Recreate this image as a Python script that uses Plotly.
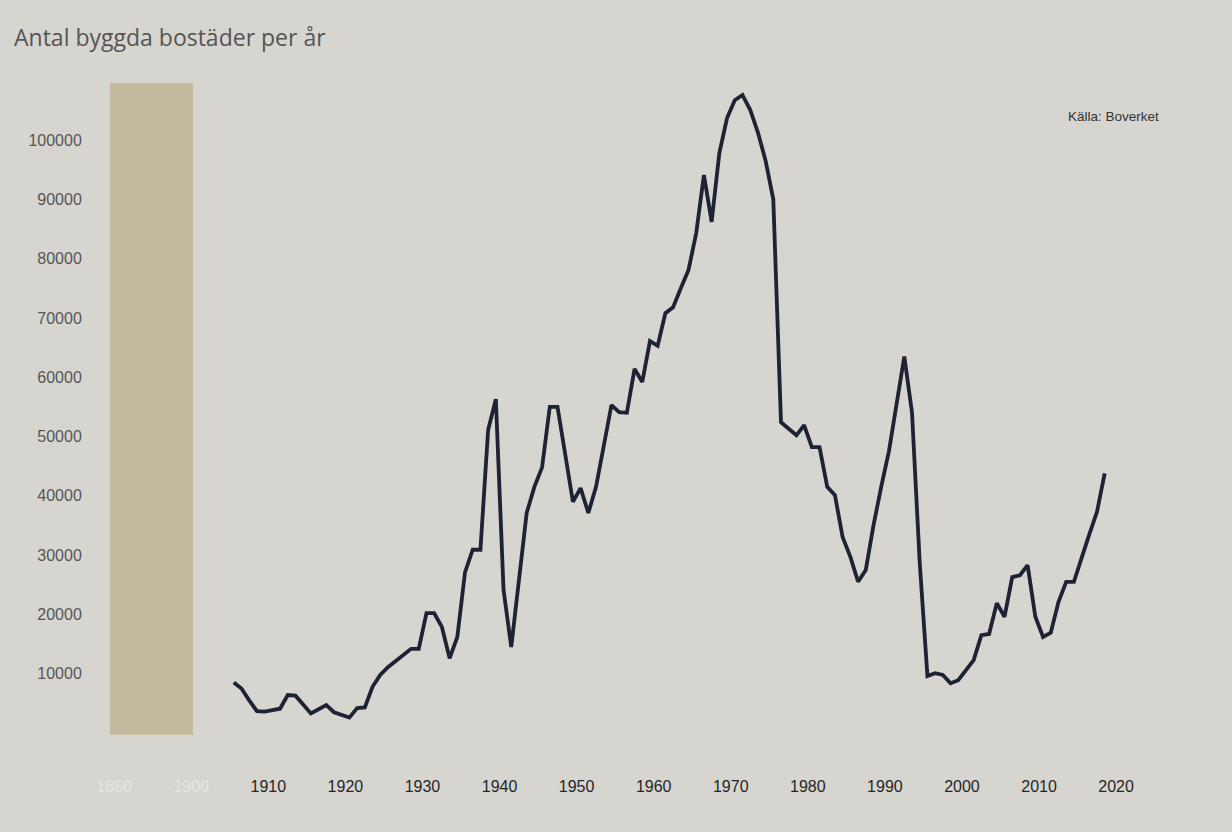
import plotly.graph_objects as go

years = list(range(1905, 2019))
homes = [
    8500, 7500, 5500, 3700, 3600, 3900, 4100, 6400, 6300, 4800,   # 1905-1914
    3300, 4000, 4700, 3500, 3000, 2600, 4200, 4300, 7800, 9800,   # 1915-1924
    11100, 12200, 13200, 14200, 14200, 20200, 20200, 17900, 12600, 16200,  # 1925-1934
    27100, 30900, 30900, 51100, 56300, 24100, 14500, 25800, 37100, 41500,  # 1935-1944
    44800, 55000, 55000, 47000, 39000, 41300, 37100, 41500, 48000, 55300,  # 1945-1954
    54100, 54000, 61400, 59200, 66100, 65300, 70800, 71800, 75000, 78100,  # 1955-1964
    84300, 94100, 86200, 97800, 103700, 106700, 107600, 105100, 101300, 96500,  # 1965-1974
    90000, 52400, 51300, 50200, 51900, 48200, 48200, 41500, 40100, 33000,  # 1975-1984
    29700, 25500, 27500, 35000, 41500, 47500, 55500, 63500, 54000, 28700,  # 1985-1994
    9600, 10100, 9800, 8400, 8900, 10500, 12300, 16500, 16700, 21900,     # 1995-2004
    19600, 26300, 26600, 28300, 19600, 16200, 16900, 22100, 25500, 25500,  # 2005-2014
    29700, 33500, 37300, 43800,                                        # 2015-2018
]

y_ticks = [10000, 20000, 30000, 40000, 50000, 60000, 70000, 80000, 90000, 100000]
x_ticks = [1910, 1920, 1930, 1940, 1950, 1960, 1970, 1980, 1990, 2000, 2010, 2020]
faded_ticks = [1890, 1900]
faded_text = ["1850", "1900"]

title = "Antal byggda bostäder per år"
source = "Källa: Boverket"

bg = "#d7d5d0"
line_color = "#1d2335"
band_color = "#c3b99e"

fig = go.Figure()
fig.add_trace(go.Scatter(
    x=years, y=homes, mode="lines",
    line=dict(color=line_color, width=3.8, shape="linear"),
    hoverinfo="x+y", showlegend=False,
))

# tan band on the left (historical break)
fig.add_shape(type="rect", xref="x", yref="y",
              x0=1888.94, x1=1899.71, y0=-300, y1=109600,
              fillcolor=band_color, line=dict(width=0), layer="below")

tickvals = faded_ticks + x_ticks
ticktext = [f"<span style='color:#e6e5e1'>{t}</span>" for t in faded_text] + [str(t) for t in x_ticks]

fig.update_layout(
    width=1232, height=832,
    paper_bgcolor=bg, plot_bgcolor=bg,
    margin=dict(l=100, r=52, t=60, b=92),
    title=dict(text=title, xref="container", yref="container",
               x=14/1232, xanchor="left", y=1-38/832, yanchor="middle",
               font=dict(family="Open Sans, Noto Sans, sans-serif", size=23, color="#555555")),
    xaxis=dict(range=[1887.64, 2027.77], tickvals=tickvals, ticktext=ticktext,
               showgrid=False, zeroline=False, showline=False,
               ticks="outside", ticklen=32, tickcolor="rgba(0,0,0,0)",
               ticklabelshift=-4,
               tickfont=dict(family="Liberation Sans, Arial, sans-serif",
                             size=16, color="#262626")),
    yaxis=dict(range=[-1180, 113490], tickvals=y_ticks, ticktext=[str(v) for v in y_ticks],
               showgrid=False, zeroline=False, showline=False,
               ticks="outside", ticklen=14, tickcolor="rgba(0,0,0,0)",
               tickfont=dict(family="Liberation Sans, Arial, sans-serif",
                             size=16, color="#555555")),
    annotations=[dict(text=source, xref="paper", yref="paper",
                      x=(1066-100)/1080, y=(740-116)/680, xanchor="left", yanchor="middle",
                      showarrow=False,
                      font=dict(family="Liberation Sans, Arial, sans-serif",
                                size=13.5, color="#333333"))],
)

fig.write_html("out.html", config={"displayModeBar": False},
               post_script="document.body.style.margin='0';document.body.style.background='#d7d5d0';")
